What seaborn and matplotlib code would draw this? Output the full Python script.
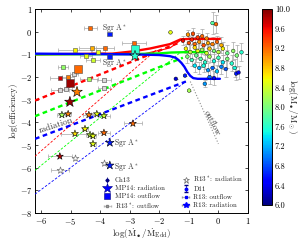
import numpy as np
import matplotlib
matplotlib.use('Agg')
import matplotlib.pyplot as plt
import seaborn as sns
import pandas as pd
from matplotlib.colors import Normalize
from matplotlib.lines import Line2D

# ---------------- data ----------------
# theory curves
blue_x = [-6.2, -3.0, -2.0, -1.64, -1.45, -1.35, -1.25, -1.15, -1.05, -0.95, -0.85, -0.7, 0.05]
blue_y = [-0.97, -1.0, -1.03, -1.08, -1.15, -1.25, -1.38, -1.55, -1.78, -1.95, -2.05, -2.08, -2.08]
green_x = [-6.2, -3.0, -2.0, -1.6, -1.0, -0.4]
green_y = [-1.0, -0.99, -0.96, -0.92, -0.9, -0.9]
red_x = [-6.2, -3.6, -2.9, -2.3, -1.64, -1.28, -1.0, 0.05]
red_y = [-1.0, -0.97, -0.87, -0.74, -0.55, -0.34, -0.32, -0.32]
red2_x = [-2.6, -1.64, -1.28]
red2_y = [-1.0, -0.72, -0.38]
dred_x = [-6.2, -1.3]
dred_y = [-3.04, -0.47]
dgreen_x = [-6.2, -1.2]
dgreen_y = [-3.73, -1.15]
dblue_x = [-6.2, -1.1]
dblue_y = [-4.73, -2.2]
tred_x = [-6.2, -2.1]
tred_y = [-5.5, -0.8]
tgreen_x = [-6.2, -1.28]
tgreen_y = [-6.12, -0.91]
tblue_x = [-6.2, -1.1]
tblue_y = [-7.17, -2.2]
outflow_x = [-0.95, 0.0]
outflow_y = [-2.2, -4.95]

# R13*: outflow (with mass)
r13s_out_x = [-4.34, -4.85, -4.27, -4.07, -3.83, -4.48, -4.24, -5.25, -5.36, -5.08, -4.38, -2.85]
r13s_out_y = [0.16, -0.81, -0.72, -0.90, -0.72, -1.07, -1.25, -1.55, -2.04, -2.00, -2.08, -0.50]
r13s_out_xerr = [0.22, 0.57, 0.45, 0.25, 0.30, 0.20, 0.25, 0.17, 0.34, 0.20, 0.30, 0.40]
r13s_out_m = [9.2, 8.6, 8.9, 8.5, 9.2, 8.5, 8.4, 8.1, 9.7, 9.1, 8.2, 9.2]
# R13*: outflow (no mass)
r13g_out_x = [-4.88, -3.87, -5.36, -5.15, -3.87]
r13g_out_y = [-1.86, -2.15, -2.57, -2.52, -2.50]
r13g_out_xerr = [0.15, 0.25, 0.30, 0.20, 0.20]
# MP14 outflow
mp_out_x = [-4.75, -5.02, -2.82]
mp_out_y = [-1.64, -2.26, -0.76]
mp_out_m = [9.2, 9.9, 7.6]
sgr_out_x = [-3.67, -3.67]
sgr_out_y = [-0.10, -1.11]
sgr_out_m = [6.6, 6.6]
# MP14 radiation
mp_rad_x = [-4.78, -5.02, -2.82]
mp_rad_y = [-2.66, -3.10, -1.07]
mp_rad_m = [9.1, 9.9, 7.6]
sgr_rad_x = [-3.67, -3.67]
sgr_rad_y = [-4.90, -5.90]
sgr_rad_m = [6.6, 6.6]
# R13 radiation
r13_rad_x = [-5.29, -5.08, -4.38, -4.11, -3.87, -4.51, -4.85, -4.34, -4.24, -3.87, -4.24, -2.89, -5.36]
r13_rad_y = [-3.67, -3.63, -3.67, -3.63, -3.71, -4.29, -4.50, -4.55, -4.60, -4.46, -4.95, -4.05, -5.50]
r13_rad_xerr = [0.15, 0.10, 0.20, 0.20, 0.20, 0.10, 0.47, 0.15, 0.10, 0.20, 0.10, 0.30, 0.40]
r13_rad_m = [8.2, 9.1, 9.1, 8.5, 8.4, 8.6, 8.7, 8.3, 8.5, 9.2, 8.5, 9.2, 9.8]
# R13*: radiation
r13s_rad_x = [-4.85, -5.36, -3.87]
r13s_rad_y = [-5.56, -6.10, -5.80]
r13s_rad_xerr = [0.0, 0.30, 0.0]
# Ch13 / D11 cluster
cl_x = [-0.20, -0.08, -1.62,
        -1.03, -0.86, -0.70, -0.55, -0.40,
        -1.20, -1.00, -0.90, -0.80, -0.65, -0.50, -0.35, -0.20, -0.05, 0.10,
        -1.10, -0.95, -0.80, -0.70, -0.55, -0.40, -0.30, -0.15, 0.00, 0.15, 0.30, 0.50, 0.78, 0.62,
        -1.05, -0.90, -0.75, -0.60, -0.45, -0.30, -0.15, 0.00, 0.15, 0.30, 0.45, 0.55,
        -0.80, -0.65, -0.50, -0.35, -0.20, -0.05, 0.10, 0.25, 0.60, 0.68,
        -1.44, -1.13, -0.46, -0.99, -0.30, -0.15]
cl_y = [0.38, 0.33, -0.03,
        -0.13, -0.09, -0.25, -0.20, -0.30,
        -0.40, -0.50, -0.35, -0.55, -0.45, -0.60, -0.50, -0.55, -0.45, -0.60,
        -0.75, -0.90, -0.70, -0.85, -0.80, -0.95, -0.75, -0.85, -0.90, -0.75, -0.95, -0.85, -0.91, -1.05,
        -1.10, -1.25, -1.05, -1.20, -1.35, -1.10, -1.30, -1.15, -1.35, -1.20, -1.40, -1.60,
        -1.50, -1.60, -1.50, -1.70, -1.60, -1.75, -1.55, -1.65, -1.85, -1.80,
        -2.08, -1.94, -2.30, -2.60, -2.00, -2.05]
cl_m = [7.8, 9.2, 8.5,
        9.0, 9.3, 9.4, 9.2, 9.1,
        9.6, 9.3, 9.5, 9.2, 9.0, 9.3, 8.9, 9.1, 9.2, 8.9,
        8.6, 8.3, 8.7, 8.5, 8.2, 8.4, 8.8, 8.0, 8.3, 8.6, 7.9, 8.1, 7.6, 8.0,
        8.0, 7.7, 7.9, 7.8, 7.6, 8.2, 7.5, 7.7, 7.4, 8.0, 7.6, 7.5,
        7.4, 7.2, 7.5, 7.1, 6.9, 7.3, 7.0, 6.8, 6.6, 6.4,
        6.3, 6.6, 7.1, 8.2, 6.9, 6.5]
cl_yerr = [0.5, 0.4, 0.0,
           0.2, 0.25, 0.2, 0.3, 0.25,
           0.2, 0.3, 0.2, 0.3, 0.25, 0.3, 0.2, 0.3, 0.25, 0.35,
           0.2, 0.3, 0.25, 0.3, 0.2, 0.35, 0.25, 0.3, 0.4, 0.3, 0.35, 0.4, 0.4, 0.45,
           0.3, 0.25, 0.3, 0.35, 0.3, 0.25, 0.3, 0.35, 0.3, 0.4, 0.35, 0.4,
           0.3, 0.25, 0.3, 0.3, 0.35, 0.3, 0.3, 0.35, 0.3, 0.3,
           0.0, 0.0, 0.15, 0.0, 0.3, 0.3]

cbar_ticks = [6.0, 6.4, 6.8, 7.2, 7.6, 8.0, 8.4, 8.8, 9.2, 9.6, 10.0]

# ---------------- style ----------------
sns.set_style('ticks')
plt.rcParams.update({
    'font.family': 'serif', 'font.serif': ['cmr10'], 'mathtext.fontset': 'cm',
    'axes.formatter.use_mathtext': True, 'font.size': 6,
    'xtick.direction': 'in', 'ytick.direction': 'in',
    'xtick.top': True, 'ytick.right': True,
    'xtick.labelsize': 6, 'ytick.labelsize': 6,
    'xtick.major.size': 2.5, 'ytick.major.size': 2.5,
    'xtick.major.width': 0.5, 'ytick.major.width': 0.5,
    'axes.linewidth': 0.7, 'axes.edgecolor': 'black',
    'xtick.color': 'black', 'ytick.color': 'black',
})

cmap = plt.get_cmap('jet')
norm = Normalize(6, 10)

fig = plt.figure(figsize=(2.99, 2.41), dpi=100)
ax = fig.add_axes([35/299, 28/241, 213/299, 204/241])
cax = fig.add_axes([262/299, 36/241, 10/299, 196/241])

ecol = '0.65'
ekw = dict(fmt='none', ecolor=ecol, elinewidth=0.5, capsize=1.2, capthick=0.5, zorder=2)


def mscatter(x, y, m, marker, s, ec='black', lw=0.4, z=4):
    d = pd.DataFrame(dict(x=x, y=y, m=m))
    sns.scatterplot(data=d, x='x', y='y', hue='m', palette=cmap, hue_norm=norm,
                    marker=marker, s=s, edgecolor=ec, linewidth=lw, legend=False,
                    ax=ax, zorder=z)


# theory lines
ax.plot(tred_x, tred_y, color='red', lw=0.6, ls=(0, (3, 2)), zorder=3)
ax.plot(tgreen_x, tgreen_y, color='lime', lw=0.6, ls=(0, (3, 2)), zorder=3)
ax.plot(tblue_x, tblue_y, color='blue', lw=0.6, ls=(0, (3, 2)), zorder=3)
ax.plot(dred_x, dred_y, color='red', lw=1.7, ls=(0, (2, 1.5)), zorder=3)
ax.plot(dgreen_x, dgreen_y, color='lime', lw=1.7, ls=(0, (2, 1.5)), zorder=3)
ax.plot(dblue_x, dblue_y, color='blue', lw=1.7, ls=(0, (2, 1.5)), zorder=3)
ax.plot(red2_x, red2_y, color='red', lw=0.8, zorder=3)
ax.plot(red_x, red_y, color='red', lw=1.7, zorder=3)
ax.plot(green_x, green_y, color='lime', lw=1.7, zorder=3)
ax.plot(blue_x, blue_y, color='blue', lw=1.7, zorder=3)
ax.plot(outflow_x, outflow_y, color='0.55', lw=0.8, ls=':', zorder=3)

# cluster
ax.errorbar(cl_x, cl_y, yerr=cl_yerr, **ekw)
mscatter(cl_x, cl_y, cl_m, 'o', 7, lw=0.3)

# R13* outflow
ax.errorbar(r13s_out_x, r13s_out_y, xerr=r13s_out_xerr, **ekw)
ax.errorbar(r13g_out_x, r13g_out_y, xerr=r13g_out_xerr, **ekw)
mscatter(r13s_out_x, r13s_out_y, r13s_out_m, 's', 7, ec='0.3')
ax.scatter(r13g_out_x, r13g_out_y, marker='s', s=6, facecolor='0.85', edgecolor='0.4',
           linewidth=0.5, zorder=4)

# R13 radiation
ax.errorbar(r13_rad_x, r13_rad_y, xerr=r13_rad_xerr, **ekw)
mscatter(r13_rad_x, r13_rad_y, r13_rad_m, '*', 28)
ax.errorbar(r13s_rad_x, r13s_rad_y, xerr=r13s_rad_xerr, **ekw)
ax.scatter(r13s_rad_x, r13s_rad_y, marker='*', s=26, facecolor='white', edgecolor='0.45',
           linewidth=0.5, zorder=4)

# MP14
mscatter(mp_out_x, mp_out_y, mp_out_m, 's', 28, ec='0.3', z=5)
mscatter(sgr_out_x, sgr_out_y, sgr_out_m, 's', 12, ec='0.3', z=5)
mscatter(mp_rad_x, mp_rad_y, mp_rad_m, '*', 65, z=5)
mscatter(sgr_rad_x, sgr_rad_y, sgr_rad_m, '*', 40, z=5)

# text
tk = dict(fontsize=5.5, color='0.2')
ax.text(-3.94, 0.16, 'Sgr A$^*$', va='center', ha='left', **tk)
ax.text(-3.94, -1.38, 'Sgr A$^*$', va='center', ha='left', **tk)
ax.text(-3.52, -4.92, 'Sgr A$^*$', va='center', ha='left', **tk)
ax.text(-3.52, -5.95, 'Sgr A$^*$', va='center', ha='left', **tk)
ax.text(-5.5, -4.15, 'radiation', rotation=18, ha='center', va='center', fontsize=6.5, color='0.2')
ax.text(-0.22, -4.05, 'outflow', rotation=-63, ha='center', va='center', fontsize=6, color='0.2')

ax.set_xlim(-6.2, 1)
ax.set_ylim(-8, 1)
ax.set_xticks([-6, -5, -4, -3, -2, -1, 0, 1])
ax.set_yticks([1, 0, -1, -2, -3, -4, -5, -6, -7, -8])
ax.set_xlabel(r'$\log(\dot{\rm M}_\bullet/\dot{\rm M}_{\rm Edd})$', fontsize=6.5, labelpad=0)
ax.set_ylabel(r'$\log({\rm efficiency})$', fontsize=6.5, labelpad=0)
ax.tick_params(pad=2)

# legend
hb = 'blue'
h1 = ax.errorbar([np.nan], [np.nan], yerr=[0.1], fmt='D', ms=1.6, color='navy', ecolor='navy', elinewidth=0.5)
h2 = Line2D([], [], marker='*', ls='none', ms=7, color=hb, mec='navy', mew=0.4)
h3 = Line2D([], [], marker='s', ls='none', ms=4, color=hb, mec='navy', mew=0.4)
h4 = ax.errorbar([np.nan], [np.nan], xerr=[0.1], fmt='s', ms=2, mfc='0.8', mec='0.5', ecolor='0.7', elinewidth=0.5, capsize=1)
h5 = Line2D([], [], marker='*', ls='none', ms=4.5, mfc='white', mec='0.4', mew=0.5)
h6 = ax.errorbar([np.nan], [np.nan], yerr=[0.1], fmt='o', ms=1.8, color=hb, ecolor='navy', elinewidth=0.5, capsize=1.2)
h7 = ax.errorbar([np.nan], [np.nan], xerr=[0.1], fmt='s', ms=2, color=hb, ecolor='0.6', elinewidth=0.5, capsize=1)
h8 = ax.errorbar([np.nan], [np.nan], xerr=[0.1], fmt='*', ms=4, color=hb, ecolor='0.6', elinewidth=0.5, capsize=1)
labels = ['Ch13', 'MP14: radiation', 'MP14: outflow', r'R13$^*$: outflow',
          r'R13$^*$: radiation', 'D11', 'R13: outflow', 'R13: radiation']
ax.legend([h1, h2, h3, h4, h5, h6, h7, h8], labels, ncol=2, frameon=False, fontsize=5,
          loc='lower right', bbox_to_anchor=(1.0, -0.01), labelspacing=0.3,
          handlelength=1.2, handletextpad=0.5, columnspacing=2.4, borderaxespad=0.2)

# colorbar
sm = plt.cm.ScalarMappable(cmap=cmap, norm=norm)
cb = fig.colorbar(sm, cax=cax, ticks=cbar_ticks)
cb.ax.set_yticklabels(['%.1f' % t for t in cbar_ticks])
cb.ax.tick_params(labelsize=6, direction='in', length=0, pad=2)
cb.outline.set_linewidth(0.7)
cb.set_label(r'$\log({\rm M}_\bullet/{\rm M}_\odot)$', fontsize=6.5, rotation=270, labelpad=6)

fig.savefig('out.png', dpi=100)
